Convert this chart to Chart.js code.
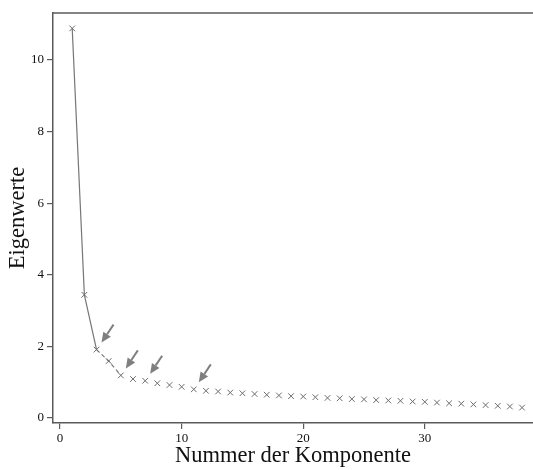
<!DOCTYPE html>
<html>
<head>
<meta charset="utf-8">
<script src="https://cdn.jsdelivr.net/npm/chart.js@4/dist/chart.umd.min.js"></script>
<style>
  html, body { margin: 0; padding: 0; background: #fff; }
  #wrap { width: 533px; height: 470px; }
</style>
</head>
<body>
<div id="wrap"><canvas id="scree"></canvas></div>
<script>
// eigenvalues per component
const components = [1,2,3,4,5,6,7,8,9,10,11,12,13,14,15,16,17,18,19,20,21,22,23,24,25,26,27,28,29,30,31,32,33,34,35,36,37,38]
const eigenvalues = [10.88,3.44,1.91,1.59,1.19,1.09,1.04,0.97,0.92,0.87,0.80,0.76,0.74,0.71,0.69,0.67,0.65,0.63,0.61,0.60,0.58,0.56,0.55,0.53,0.52,0.50,0.49,0.48,0.46,0.45,0.43,0.41,0.40,0.38,0.36,0.34,0.32,0.29]
const xTickValues = [0, 10, 20, 30]
const yTickValues = [0, 2, 4, 6, 8, 10]
const arrowComponents = [3, 5, 7, 11]

const axisColor = '#5a5a5a'
const markColor = '#6b6b6b'
const serif = "'Liberation Serif', 'DejaVu Serif', serif"

// arrows pointing at the marked components + top frame line
const extras = {
    id: 'extras',
    afterDatasetsDraw(chart) {
        const ctx = chart.ctx
        const meta = chart.getDatasetMeta(0)
        const area = chart.chartArea
        ctx.save()
        ctx.strokeStyle = axisColor
        ctx.lineWidth = 1.5
        ctx.beginPath()
        ctx.moveTo(area.left, area.top)
        ctx.lineTo(area.right, area.top)
        ctx.stroke()

        ctx.strokeStyle = '#7f7f7f'
        ctx.fillStyle = '#7f7f7f'
        ctx.lineWidth = 2
        arrowComponents.forEach(function(c) {
            const pt = meta.data[components.indexOf(c)]
            const tipX = pt.x + 5, tipY = pt.y - 7
            const tailX = pt.x + 17, tailY = pt.y - 25
            const ang = Math.atan2(tipY - tailY, tipX - tailX)
            const head = 10
            const bx = tipX - head * Math.cos(ang), by = tipY - head * Math.sin(ang)
            ctx.beginPath()
            ctx.moveTo(tailX, tailY)
            ctx.lineTo(bx, by)
            ctx.stroke()
            ctx.beginPath()
            ctx.moveTo(tipX, tipY)
            ctx.lineTo(bx + 4.5 * Math.sin(ang), by - 4.5 * Math.cos(ang))
            ctx.lineTo(bx - 4.5 * Math.sin(ang), by + 4.5 * Math.cos(ang))
            ctx.closePath()
            ctx.fill()
        })
        ctx.restore()
    }
}

new Chart(document.getElementById('scree'), {
    type: 'scatter',
    data: {
        datasets: [{
            data: components.map((c, i) => ({ x: c, y: eigenvalues[i] })),
            showLine: true,
            borderColor: '#777',
            borderWidth: 1.2,
            pointStyle: 'crossRot',
            pointRadius: 4,
            pointBorderColor: markColor,
            pointBorderWidth: 1,
            pointBackgroundColor: markColor,
            segment: {
                borderColor: ctx => ctx.p0DataIndex < 4 ? '#777' : 'rgba(0,0,0,0)',
                borderDash: ctx => ctx.p0DataIndex >= 2 ? [4, 3] : undefined
            }
        }]
    },
    options: {
        responsive: true,
        maintainAspectRatio: false,
        animation: false,
        layout: { autoPadding: false, padding: { top: 13, right: 0, bottom: 0, left: 0 } },
        plugins: { legend: { display: false }, tooltip: { enabled: false } },
        scales: {
            x: {
                type: 'linear',
                min: -0.58,
                max: 38.9,
                afterBuildTicks: s => { s.ticks = xTickValues.map(v => ({ value: v })) },
                afterFit: s => { s.height = 47; s.paddingLeft = 0; s.paddingRight = 0 },
                border: { display: true, color: axisColor, width: 1.5 },
                grid: { drawOnChartArea: false, drawTicks: true, tickLength: 6, color: axisColor, lineWidth: 1.2 },
                ticks: { color: '#111', font: { family: serif, size: 13 }, padding: 2, maxRotation: 0 },
                title: { display: true, text: 'Nummer der Komponente', color: '#111', font: { family: serif, size: 22.5 }, padding: { top: 0, bottom: 0 } }
            },
            y: {
                min: -0.14,
                max: 11.31,
                afterBuildTicks: s => { s.ticks = yTickValues.map(v => ({ value: v })) },
                afterFit: s => { s.width = 53; s.paddingTop = 0; s.paddingBottom = 0 },
                border: { display: true, color: axisColor, width: 1.5 },
                grid: { drawOnChartArea: false, drawTicks: true, tickLength: 6, color: axisColor, lineWidth: 1.2 },
                ticks: { color: '#111', font: { family: serif, size: 13 }, padding: 3 },
                title: { display: true, text: 'Eigenwerte', color: '#111', font: { family: serif, size: 22.5 }, padding: { top: 5, bottom: 0 } }
            }
        }
    },
    plugins: [extras]
})
</script>
</body>
</html>
